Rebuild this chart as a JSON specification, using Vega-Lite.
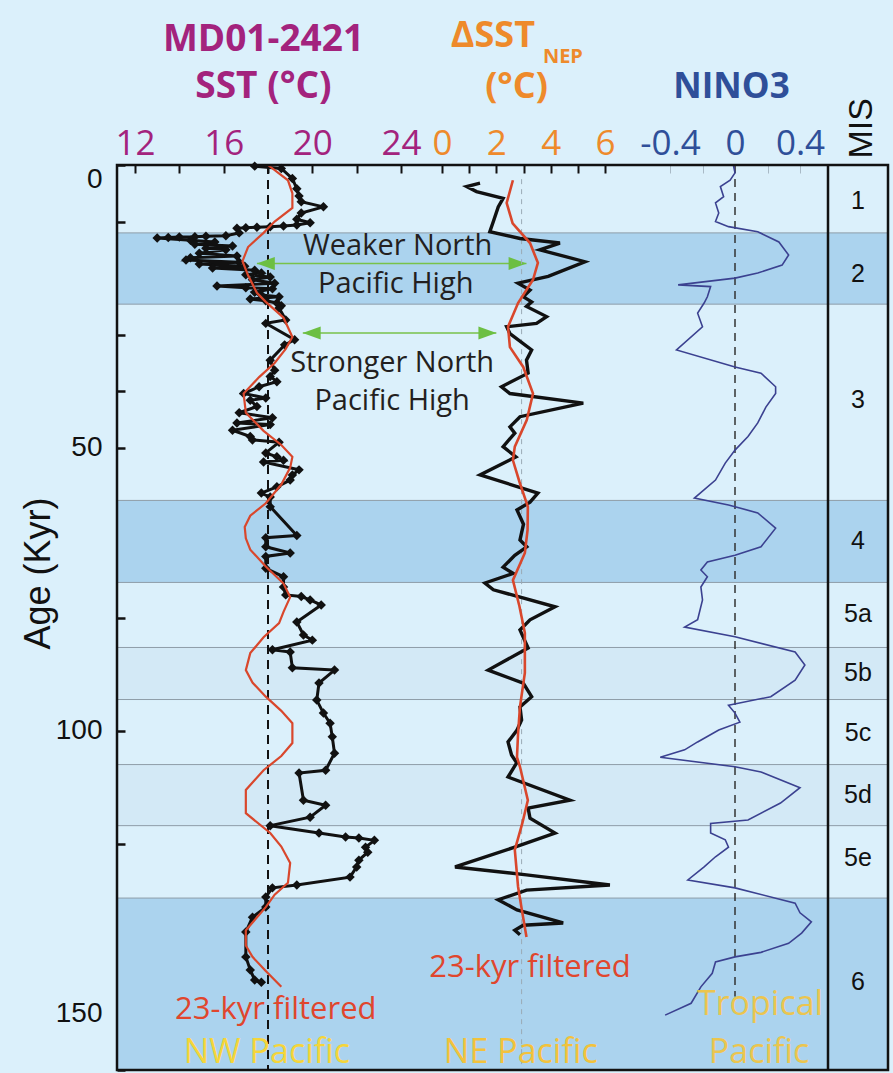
{
  "$schema": "https://vega.github.io/schema/vega-lite/v6.json",
  "autosize": "none",
  "padding": {"left": 117, "top": 165, "right": 5, "bottom": 3},
  "background": "#dbf0fb",
  "config": {"view": {"stroke": null}},
  "width": 771,
  "height": 905,
  "datasets": {
    "bands": [
      {"age": 12.0, "age2": 24.6, "kind": "dark"},
      {"age": 59.3, "age2": 73.8, "kind": "dark"},
      {"age": 85.3, "age2": 94.5, "kind": "light"},
      {"age": 106.0, "age2": 116.8, "kind": "light"},
      {"age": 129.6, "age2": 160, "kind": "dark"}
    ],
    "frame": [{"age": 0, "age2": 160}],
    "mis": [
      {"label": "1", "age": 6.4, "col": 0.5}, {"label": "2", "age": 19.3, "col": 0.5}, {"label": "3", "age": 41.5, "col": 0.5},
      {"label": "4", "age": 66.4, "col": 0.5}, {"label": "5a", "age": 79.4, "col": 0.5}, {"label": "5b", "age": 89.9, "col": 0.5},
      {"label": "5c", "age": 100.4, "col": 0.5}, {"label": "5d", "age": 111.3, "col": 0.5}, {"label": "5e", "age": 122.5, "col": 0.5},
      {"label": "6", "age": 144.5, "col": 0.5}
    ],
    "sst": [
      {"age":0.2,"sst":17.4},{"age":0.6,"sst":18.6},{"age":2.4,"sst":19.1},{"age":4.2,"sst":19.3},{"age":5.5,"sst":19.4},{"age":6.5,"sst":19.5},{"age":7.4,"sst":20.5},{"age":8.5,"sst":19.5},{"age":9.6,"sst":19.3},{"age":10.2,"sst":19.9},{"age":10.6,"sst":19.3},{"age":10.8,"sst":18.7},{"age":10.9,"sst":18.1},{"age":11.0,"sst":17.5},{"age":11.1,"sst":17.0},{"age":11.2,"sst":16.6},{"age":12.0,"sst":16.7},{"age":12.5,"sst":16.1},{"age":12.6,"sst":15.2},{"age":12.7,"sst":14.7},{"age":12.75,"sst":14.0},{"age":12.8,"sst":13.5},{"age":12.9,"sst":13.0},{"age":13.3,"sst":14.5},{"age":13.6,"sst":15.6},{"age":14.0,"sst":14.7},{"age":14.3,"sst":16.4},{"age":14.7,"sst":15.2},{"age":15.0,"sst":16.1},{"age":15.6,"sst":14.9},{"age":16.1,"sst":16.6},{"age":16.4,"sst":14.5},{"age":16.8,"sst":14.3},{"age":17.2,"sst":16.7},{"age":17.5,"sst":14.9},{"age":17.9,"sst":16.95},{"age":18.2,"sst":15.5},{"age":18.6,"sst":17.4},{"age":19.1,"sst":17.7},{"age":19.4,"sst":17.0},{"age":19.8,"sst":18.1},{"age":20.3,"sst":17.3},{"age":20.9,"sst":18.3},{"age":21.4,"sst":15.7},{"age":21.7,"sst":17.0},{"age":21.9,"sst":18.2},{"age":22.5,"sst":17.4},{"age":23.0,"sst":17.7},{"age":23.3,"sst":18.5},{"age":23.7,"sst":17.2},{"age":24.0,"sst":17.9},{"age":24.4,"sst":18.4},{"age":24.9,"sst":18.6},{"age":25.3,"sst":18.5},{"age":27.4,"sst":18.8},{"age":28.0,"sst":17.9},{"age":30.9,"sst":19.2},{"age":31.8,"sst":18.75},{"age":34.5,"sst":18.1},{"age":36.3,"sst":18.3},{"age":37.4,"sst":18.1},{"age":38.3,"sst":18.4},{"age":39.2,"sst":17.6},{"age":40.4,"sst":16.9},{"age":41.2,"sst":17.9},{"age":41.6,"sst":17.2},{"age":42.7,"sst":17.5},{"age":43.8,"sst":16.7},{"age":44.7,"sst":18.2},{"age":45.6,"sst":16.6},{"age":45.9,"sst":18.1},{"age":46.9,"sst":16.4},{"age":48.0,"sst":17.2},{"age":48.6,"sst":17.3},{"age":49.0,"sst":18.5},{"age":50.9,"sst":17.9},{"age":51.6,"sst":18.4},{"age":52.2,"sst":18.7},{"age":52.5,"sst":17.8},{"age":53.9,"sst":19.4},{"age":54.8,"sst":19.1},{"age":55.7,"sst":19.0},{"age":56.9,"sst":18.4},{"age":58.0,"sst":17.7},{"age":58.7,"sst":18.1},{"age":60.4,"sst":18.1},{"age":65.5,"sst":19.3},{"age":65.9,"sst":17.9},{"age":67.5,"sst":17.9},{"age":68.6,"sst":19.0},{"age":69.2,"sst":17.9},{"age":71.3,"sst":17.9},{"age":72.8,"sst":18.7},{"age":74.6,"sst":18.7},{"age":76.0,"sst":18.8},{"age":76.3,"sst":19.5},{"age":76.9,"sst":19.9},{"age":77.8,"sst":20.4},{"age":80.8,"sst":19.3},{"age":83.1,"sst":19.6},{"age":84.0,"sst":20.0},{"age":85.7,"sst":18.2},{"age":86.1,"sst":19.0},{"age":88.9,"sst":19.1},{"age":89.3,"sst":21.0},{"age":91.6,"sst":20.3},{"age":94.6,"sst":20.2},{"age":96.9,"sst":20.5},{"age":98.7,"sst":20.8},{"age":101.1,"sst":20.9},{"age":104.0,"sst":21.0},{"age":107.0,"sst":20.6},{"age":107.5,"sst":19.4},{"age":112.3,"sst":19.6},{"age":113.2,"sst":20.6},{"age":115.3,"sst":19.9},{"age":116.8,"sst":18.1},{"age":118.1,"sst":20.3},{"age":118.8,"sst":21.5},{"age":119.0,"sst":22.1},{"age":119.4,"sst":22.8},{"age":120.6,"sst":22.4},{"age":121.5,"sst":22.5},{"age":122.9,"sst":22.1},{"age":124.1,"sst":22.0},{"age":125.9,"sst":21.7},{"age":127.3,"sst":19.3},{"age":127.8,"sst":18.2},{"age":129.4,"sst":17.9},{"age":131.2,"sst":17.9},{"age":133.0,"sst":17.3},{"age":135.6,"sst":17.0},{"age":140.0,"sst":17.0},{"age":142.3,"sst":17.2},{"age":144.1,"sst":17.4},{"age":144.5,"sst":17.7}
    ],
    "sstf": [
      {"age":0,"sst":18.0},{"age":2.7,"sst":18.9},{"age":5.0,"sst":19.1},{"age":7.6,"sst":19.1},{"age":10.0,"sst":18.3},{"age":12.0,"sst":17.8},{"age":14.5,"sst":17.1},{"age":17.0,"sst":16.85},{"age":19.5,"sst":17.1},{"age":22.6,"sst":17.5},{"age":24.2,"sst":17.9},{"age":27.0,"sst":18.7},{"age":30.4,"sst":19.1},{"age":32.5,"sst":18.8},{"age":35.0,"sst":18.3},{"age":37.5,"sst":17.6},{"age":40.4,"sst":16.9},{"age":43.8,"sst":17.0},{"age":47.0,"sst":17.8},{"age":49.5,"sst":18.6},{"age":51.6,"sst":19.1},{"age":53.5,"sst":19.0},{"age":56.5,"sst":18.6},{"age":59.8,"sst":17.9},{"age":62.0,"sst":17.2},{"age":64.0,"sst":16.95},{"age":66.0,"sst":17.0},{"age":68.0,"sst":17.2},{"age":71.0,"sst":17.9},{"age":74.0,"sst":18.7},{"age":76.4,"sst":19.0},{"age":79.0,"sst":18.7},{"age":81.0,"sst":18.5},{"age":83.5,"sst":17.8},{"age":86.3,"sst":17.2},{"age":89.3,"sst":17.0},{"age":91.5,"sst":17.3},{"age":94.0,"sst":17.9},{"age":96.5,"sst":18.6},{"age":98.7,"sst":19.1},{"age":102.2,"sst":19.1},{"age":104.5,"sst":18.6},{"age":107.0,"sst":17.8},{"age":110.5,"sst":17.0},{"age":114.6,"sst":17.0},{"age":118.1,"sst":18.1},{"age":120.5,"sst":18.6},{"age":123.4,"sst":19.0},{"age":126.9,"sst":18.9},{"age":129.0,"sst":18.3},{"age":131.2,"sst":17.9},{"age":135.3,"sst":17.0},{"age":138.0,"sst":17.0},{"age":140.0,"sst":17.3},{"age":142.5,"sst":17.9},{"age":145.3,"sst":18.6}
    ],
    "dsst": [
      {"age":3.2,"dsst":1.40},{"age":3.8,"dsst":0.91},{"age":4.7,"dsst":1.27},{"age":5.9,"dsst":2.25},{"age":7.4,"dsst":2.07},{"age":10.0,"dsst":1.89},{"age":11.8,"dsst":1.76},{"age":13.0,"dsst":2.87},{"age":13.8,"dsst":4.34},{"age":15.0,"dsst":3.60},{"age":17.1,"dsst":5.26},{"age":19.7,"dsst":3.91},{"age":20.9,"dsst":2.80},{"age":22.1,"dsst":3.24},{"age":23.3,"dsst":2.99},{"age":24.2,"dsst":3.30},{"age":25.0,"dsst":3.11},{"age":26.8,"dsst":3.85},{"age":28.0,"dsst":3.48},{"age":28.6,"dsst":2.38},{"age":29.8,"dsst":2.50},{"age":32.7,"dsst":3.30},{"age":34.5,"dsst":3.11},{"age":36.8,"dsst":3.17},{"age":39.2,"dsst":2.19},{"age":40.4,"dsst":2.50},{"age":42.1,"dsst":5.20},{"age":44.5,"dsst":2.87},{"age":46.3,"dsst":2.50},{"age":47.4,"dsst":2.68},{"age":49.8,"dsst":2.25},{"age":51.6,"dsst":2.72},{"age":54.8,"dsst":1.40},{"age":58.0,"dsst":3.53},{"age":59.6,"dsst":3.24},{"age":61.0,"dsst":2.76},{"age":63.5,"dsst":3.00},{"age":66.3,"dsst":2.87},{"age":67.5,"dsst":3.12},{"age":69.0,"dsst":2.68},{"age":71.1,"dsst":2.25},{"age":72.2,"dsst":2.62},{"age":73.9,"dsst":1.58},{"age":75.1,"dsst":1.89},{"age":78.1,"dsst":4.16},{"age":80.4,"dsst":3.24},{"age":82.2,"dsst":2.87},{"age":85.4,"dsst":3.17},{"age":89.3,"dsst":1.70},{"age":91.6,"dsst":2.99},{"age":94.0,"dsst":3.30},{"age":95.8,"dsst":2.87},{"age":98.1,"dsst":2.93},{"age":100.0,"dsst":2.75},{"age":102.0,"dsst":2.43},{"age":104.3,"dsst":2.56},{"age":105.7,"dsst":2.75},{"age":108.2,"dsst":2.43},{"age":112.3,"dsst":4.71},{"age":113.7,"dsst":3.17},{"age":115.5,"dsst":3.24},{"age":118.1,"dsst":4.16},{"age":120.6,"dsst":2.68},{"age":124.1,"dsst":0.48},{"age":125.5,"dsst":3.11},{"age":127.3,"dsst":6.18},{"age":128.2,"dsst":3.11},{"age":129.9,"dsst":2.07},{"age":131.7,"dsst":2.76},{"age":134.0,"dsst":4.46},{"age":134.4,"dsst":2.99},{"age":135.3,"dsst":2.68},{"age":136.1,"dsst":2.87}
    ],
    "dsstf": [
      {"age":2.7,"dsst":2.61},{"age":6.7,"dsst":2.38},{"age":10.3,"dsst":2.60},{"age":13.8,"dsst":3.24},{"age":17.3,"dsst":3.53},{"age":20.3,"dsst":3.35},{"age":24.4,"dsst":2.80},{"age":28.6,"dsst":2.43},{"age":32.2,"dsst":2.50},{"age":35.7,"dsst":2.99},{"age":40.4,"dsst":3.35},{"age":45.1,"dsst":3.12},{"age":49.8,"dsst":2.68},{"age":52.2,"dsst":2.61},{"age":56.0,"dsst":2.85},{"age":60.4,"dsst":3.16},{"age":64.5,"dsst":3.15},{"age":68.6,"dsst":3.05},{"age":73.4,"dsst":2.61},{"age":78.0,"dsst":2.85},{"age":82.7,"dsst":3.05},{"age":89.8,"dsst":3.05},{"age":95.8,"dsst":2.87},{"age":100.5,"dsst":2.80},{"age":104.7,"dsst":2.76},{"age":106.4,"dsst":2.87},{"age":112.3,"dsst":3.16},{"age":116.5,"dsst":2.95},{"age":121.1,"dsst":2.68},{"age":127.6,"dsst":2.80},{"age":132.0,"dsst":2.95},{"age":136.5,"dsst":3.11}
    ],
    "nino": [
      {"age":0.0,"nino":-0.01},{"age":1.4,"nino":0.0},{"age":2.7,"nino":-0.03},{"age":3.8,"nino":-0.09},{"age":5.6,"nino":-0.07},{"age":6.7,"nino":-0.12},{"age":8.5,"nino":-0.10},{"age":10.0,"nino":-0.12},{"age":10.9,"nino":-0.04},{"age":11.8,"nino":0.14},{"age":13.6,"nino":0.27},{"age":15.9,"nino":0.33},{"age":17.7,"nino":0.29},{"age":19.1,"nino":0.14},{"age":20.0,"nino":0.0},{"age":21.2,"nino":-0.35},{"age":21.5,"nino":-0.15},{"age":23.3,"nino":-0.17},{"age":24.4,"nino":-0.19},{"age":26.2,"nino":-0.23},{"age":28.6,"nino":-0.20},{"age":32.7,"nino":-0.36},{"age":35.7,"nino":0.0},{"age":36.8,"nino":0.16},{"age":39.2,"nino":0.25},{"age":40.4,"nino":0.25},{"age":42.8,"nino":0.19},{"age":45.6,"nino":0.14},{"age":48.0,"nino":0.08},{"age":50.4,"nino":0.0},{"age":52.7,"nino":-0.06},{"age":55.7,"nino":-0.12},{"age":58.9,"nino":-0.25},{"age":60.1,"nino":-0.04},{"age":61.5,"nino":0.14},{"age":64.2,"nino":0.25},{"age":67.5,"nino":0.16},{"age":69.0,"nino":0.0},{"age":70.2,"nino":-0.17},{"age":71.6,"nino":-0.21},{"age":72.8,"nino":-0.17},{"age":74.6,"nino":-0.21},{"age":76.9,"nino":-0.20},{"age":80.4,"nino":-0.23},{"age":81.7,"nino":-0.31},{"age":83.4,"nino":0.0},{"age":86.1,"nino":0.37},{"age":88.4,"nino":0.43},{"age":91.1,"nino":0.37},{"age":94.0,"nino":0.22},{"age":95.5,"nino":-0.04},{"age":96.9,"nino":0.0},{"age":98.5,"nino":0.03},{"age":99.9,"nino":-0.10},{"age":102.0,"nino":-0.23},{"age":103.4,"nino":-0.31},{"age":104.7,"nino":-0.46},{"age":106.4,"nino":0.0},{"age":107.3,"nino":0.16},{"age":110.1,"nino":0.40},{"age":112.8,"nino":0.28},{"age":115.8,"nino":0.08},{"age":116.4,"nino":-0.15},{"age":118.1,"nino":-0.15},{"age":119.3,"nino":-0.06},{"age":120.6,"nino":-0.04},{"age":122.3,"nino":-0.12},{"age":124.1,"nino":-0.19},{"age":126.4,"nino":-0.29},{"age":127.8,"nino":0.0},{"age":130.5,"nino":0.37},{"age":132.2,"nino":0.40},{"age":133.8,"nino":0.47},{"age":135.8,"nino":0.41},{"age":137.6,"nino":0.33},{"age":139.2,"nino":0.16},{"age":140.0,"nino":0.0},{"age":140.9,"nino":-0.12},{"age":142.9,"nino":-0.14},{"age":145.3,"nino":-0.21},{"age":148.2,"nino":-0.27},{"age":150.3,"nino":-0.43}
    ],
    "arrows": [
      {"age": 17.4, "sst": 17.5, "sst2": 29.66},
      {"age": 29.7, "sst": 19.57, "sst2": 28.3}
    ],
    "heads": [
      {"age": 17.4, "sst": 17.9, "dir": "left"},
      {"age": 17.4, "sst": 29.26, "dir": "right"},
      {"age": 29.7, "sst": 19.97, "dir": "left"},
      {"age": 29.7, "sst": 27.9, "dir": "right"}
    ],
    "notes": [
      {"t": "Weaker North", "sst": 23.85, "age": 15.9},
      {"t": "Pacific High", "sst": 23.76, "age": 22.6},
      {"t": "Stronger North", "sst": 23.6, "age": 36.6},
      {"t": "Pacific High", "sst": 23.6, "age": 43.3}
    ]
  },
  "encoding": {
    "y": {
      "field": "age", "type": "quantitative",
      "scale": {"domain": [0, 160], "reverse": true, "nice": false, "zero": false},
      "axis": {
        "orient": "left", "offset": -8,
        "values": [0,10,20,30,40,50,60,70,80,90,100,110,120,130,140,150,160],
        "labelExpr": "datum.value % 50 == 0 ? datum.label : ''",
        "tickSize": 8, "tickWidth": 2.5, "tickColor": "#111", "domain": false, "grid": false,
        "labelFont": "Liberation Sans", "labelFontSize": 28, "labelColor": "#111", "labelPadding": 15, "labelFlush": true,
        "title": "Age (Kyr)", "titleFont": "Liberation Sans", "titleFontSize": 36, "titleFontWeight": "normal",
        "titleColor": "#111", "titleX": -76, "titleY": 408, "titleBaseline": "alphabetic", "titleAngle": 270, "titleAlign": "center"
      }
    }
  },
  "layer": [
    {
      "data": {"name": "bands"},
      "mark": {"type": "rect", "stroke": "#8e9da8", "strokeWidth": 1},
      "encoding": {
        "y2": {"field": "age2"},
        "fill": {"field": "kind", "type": "nominal", "scale": {"domain": ["dark", "light"], "range": ["#abd3ee", "#d3e9f6"]}, "legend": null}
      }
    },
    {
      "encoding": {
        "x": {
          "field": "sst", "type": "quantitative",
          "scale": {"domain": [12, 24], "range": [18, 284], "nice": false, "zero": false},
          "axis": {
            "orient": "top", "offset": -8, "values": [12,14,16,18,20,22,24],
            "labelExpr": "datum.value % 4 == 0 ? datum.label : ''",
            "tickSize": 8, "tickWidth": 2, "tickColor": "#111", "domain": false, "grid": false,
            "labelFont": "Open Sans", "labelFontSize": 35, "labelColor": "#a3237d", "labelPadding": 4, "labelFlush": false,
            "title": ["MD01-2421", "SST (°C)"], "titleFont": "Open Sans", "titleFontSize": 37, "titleFontWeight": "bold",
            "titleColor": "#a3237d", "titleX": 146, "titleY": -123, "titleBaseline": "alphabetic", "titleLineHeight": 47,
            "titleAlign": "center", "titleAngle": 0
          }
        }
      },
      "layer": [
        {
          "data": {"values": [{"sst": 18, "age": 0, "age2": 160}]},
          "mark": {"type": "rule", "color": "#111", "strokeWidth": 2, "strokeDash": [9, 6]},
          "encoding": {"y2": {"field": "age2"}}
        },
        {
          "data": {"name": "sst"},
          "mark": {"type": "line", "color": "#111", "strokeWidth": 3},
          "encoding": {"order": {"field": "age", "type": "quantitative"}}
        },
        {
          "data": {"name": "sst"},
          "mark": {"type": "point", "shape": "diamond", "filled": true, "color": "#111", "size": 90, "opacity": 1}
        },
        {
          "data": {"name": "sstf"},
          "mark": {"type": "line", "color": "#d9472c", "strokeWidth": 2.2},
          "encoding": {"order": {"field": "age", "type": "quantitative"}}
        },
        {
          "data": {"name": "arrows"},
          "mark": {"type": "rule", "color": "#79c24a", "strokeWidth": 1.5},
          "encoding": {"x2": {"field": "sst2"}}
        },
        {
          "data": {"name": "heads"},
          "mark": {"type": "point", "filled": true, "color": "#6cbf43", "size": 324, "opacity": 1},
          "encoding": {
            "shape": {"field": "dir", "type": "nominal", "scale": {"domain": ["left", "right"], "range": ["M -1 0 L 1 -0.72 L 1 0.72 Z", "M 1 0 L -1 -0.72 L -1 0.72 Z"]}, "legend": null}
          }
        },
        {
          "data": {"name": "notes"},
          "mark": {"type": "text", "font": "Open Sans", "fontSize": 29, "color": "#231f20", "baseline": "alphabetic", "align": "center"},
          "encoding": {"text": {"field": "t"}}
        },
        {
          "data": {"values": [{"t": "23-kyr filtered", "sst": 18.35, "age": 151.0}]},
          "mark": {"type": "text", "font": "Open Sans", "fontSize": 31, "color": "#e0462d", "baseline": "alphabetic", "align": "center"},
          "encoding": {"text": {"field": "t"}}
        },
        {
          "data": {"values": [{"t": "NW Pacific", "sst": 17.95, "age": 158.8}]},
          "mark": {"type": "text", "font": "Open Sans", "fontSize": 34, "color": "#f5d53a", "baseline": "alphabetic", "align": "center"},
          "encoding": {"text": {"field": "t"}}
        }
      ]
    },
    {
      "encoding": {
        "x": {
          "field": "dsst", "type": "quantitative",
          "scale": {"domain": [0, 6], "range": [325, 488], "nice": false, "zero": false},
          "axis": {
            "orient": "top", "offset": -8, "values": [0,1,2,3,4,5,6],
            "labelExpr": "datum.value % 2 == 0 ? datum.label : ''",
            "tickSize": 8, "tickWidth": 2, "tickColor": "#111", "domain": false, "grid": false,
            "labelFont": "Open Sans", "labelFontSize": 35, "labelColor": "#ee8a2b", "labelPadding": 4, "labelFlush": false,
            "title": "(°C)", "titleFont": "Open Sans", "titleFontSize": 36, "titleFontWeight": "bold",
            "titleColor": "#ee8a2b", "titleX": 399, "titleY": -76, "titleBaseline": "alphabetic", "titleAlign": "center", "titleAngle": 0
          }
        }
      },
      "layer": [
        {
          "data": {"values": [{"dsst": 2.93, "age": 2.5, "age2": 160}]},
          "mark": {"type": "rule", "color": "#9aabb6", "strokeWidth": 1, "strokeDash": [5, 5]},
          "encoding": {"y2": {"field": "age2"}}
        },
        {
          "data": {"name": "dsst"},
          "mark": {"type": "line", "color": "#111", "strokeWidth": 3.4},
          "encoding": {"order": {"field": "age", "type": "quantitative"}}
        },
        {
          "data": {"name": "dsstf"},
          "mark": {"type": "line", "color": "#d9472c", "strokeWidth": 2.6},
          "encoding": {"order": {"field": "age", "type": "quantitative"}}
        },
        {
          "data": {"values": [{"t": "ΔSST", "dsst": 1.875, "age": -20.86}]},
          "mark": {"type": "text", "font": "Open Sans", "fontSize": 36, "fontWeight": "bold", "color": "#ee8a2b", "baseline": "alphabetic", "align": "center"},
          "encoding": {"text": {"field": "t"}}
        },
        {
          "data": {"values": [{"t": "NEP", "dsst": 4.45, "age": -18.0}]},
          "mark": {"type": "text", "font": "Open Sans", "fontSize": 20, "fontWeight": "bold", "color": "#ee8a2b", "baseline": "alphabetic", "align": "center"},
          "encoding": {"text": {"field": "t"}}
        },
        {
          "data": {"values": [{"t": "23-kyr filtered", "dsst": 3.24, "age": 143.6}]},
          "mark": {"type": "text", "font": "Open Sans", "fontSize": 31, "color": "#e0462d", "baseline": "alphabetic", "align": "center"},
          "encoding": {"text": {"field": "t"}}
        },
        {
          "data": {"values": [{"t": "NE Pacific", "dsst": 2.9, "age": 158.8}]},
          "mark": {"type": "text", "font": "Open Sans", "fontSize": 34, "color": "#f2c23c", "baseline": "alphabetic", "align": "center"},
          "encoding": {"text": {"field": "t"}}
        }
      ]
    },
    {
      "encoding": {
        "x": {
          "field": "nino", "type": "quantitative",
          "scale": {"domain": [-0.4, 0.4], "range": [553, 683], "nice": false, "zero": false},
          "axis": {
            "orient": "top", "offset": -8, "values": [-0.4, -0.2, 0, 0.2, 0.4],
            "labelExpr": "datum.value == -0.4 ? '-0.4' : datum.value == 0 ? '0' : datum.value == 0.4 ? '0.4' : ''",
            "tickSize": 8, "tickWidth": 1, "tickColor": "#a9bac6", "domain": false, "grid": false,
            "labelFont": "Open Sans", "labelFontSize": 35, "labelColor": "#2f4f99", "labelPadding": 4, "labelFlush": false,
            "title": "NINO3", "titleFont": "Open Sans", "titleFontSize": 35, "titleFontWeight": "bold",
            "titleColor": "#2f4f99", "titleX": 614, "titleY": -76, "titleBaseline": "alphabetic", "titleAlign": "center", "titleAngle": 0
          }
        }
      },
      "layer": [
        {
          "data": {"values": [{"nino": 0, "age": 0, "age2": 147}]},
          "mark": {"type": "rule", "color": "#333", "strokeWidth": 1.5, "strokeDash": [8, 6]},
          "encoding": {"y2": {"field": "age2"}}
        },
        {
          "data": {"name": "nino"},
          "mark": {"type": "line", "color": "#3b4190", "strokeWidth": 1.6},
          "encoding": {"order": {"field": "age", "type": "quantitative"}}
        },
        {
          "data": {"values": [{"t": "Tropical", "nino": 0.154, "age": 150.3}, {"t": "Pacific", "nino": 0.148, "age": 158.8}]},
          "mark": {"type": "text", "font": "Open Sans", "fontSize": 34, "color": "#f2c43e", "baseline": "alphabetic", "align": "center", "opacity": 0.9},
          "encoding": {"text": {"field": "t"}}
        }
      ]
    },
    {
      "encoding": {
        "x": {"field": "col", "type": "quantitative", "scale": {"domain": [0, 1], "range": [711, 771], "nice": false, "zero": false}, "axis": null}
      },
      "layer": [
        {
          "data": {"values": [{"col": 0, "age": 0, "age2": 160}]},
          "mark": {"type": "rule", "color": "#111", "strokeWidth": 2.5},
          "encoding": {"y2": {"field": "age2"}}
        },
        {
          "data": {"name": "mis"},
          "mark": {"type": "text", "font": "Liberation Sans", "fontSize": 25, "color": "#111", "baseline": "middle", "align": "center"},
          "encoding": {"text": {"field": "label"}}
        },
        {
          "data": {"values": [{"t": "MIS", "age": -6.5, "col": 0.57}]},
          "mark": {"type": "text", "font": "Liberation Sans", "fontSize": 34, "color": "#111", "baseline": "middle", "align": "center", "angle": 270},
          "encoding": {"text": {"field": "t"}}
        }
      ]
    },
    {
      "data": {"name": "frame"},
      "mark": {"type": "rect", "fill": null, "stroke": "#111", "strokeWidth": 2.5},
      "encoding": {"y2": {"field": "age2"}}
    }
  ],
  "resolve": {"scale": {"x": "independent"}, "axis": {"x": "independent"}}
}
